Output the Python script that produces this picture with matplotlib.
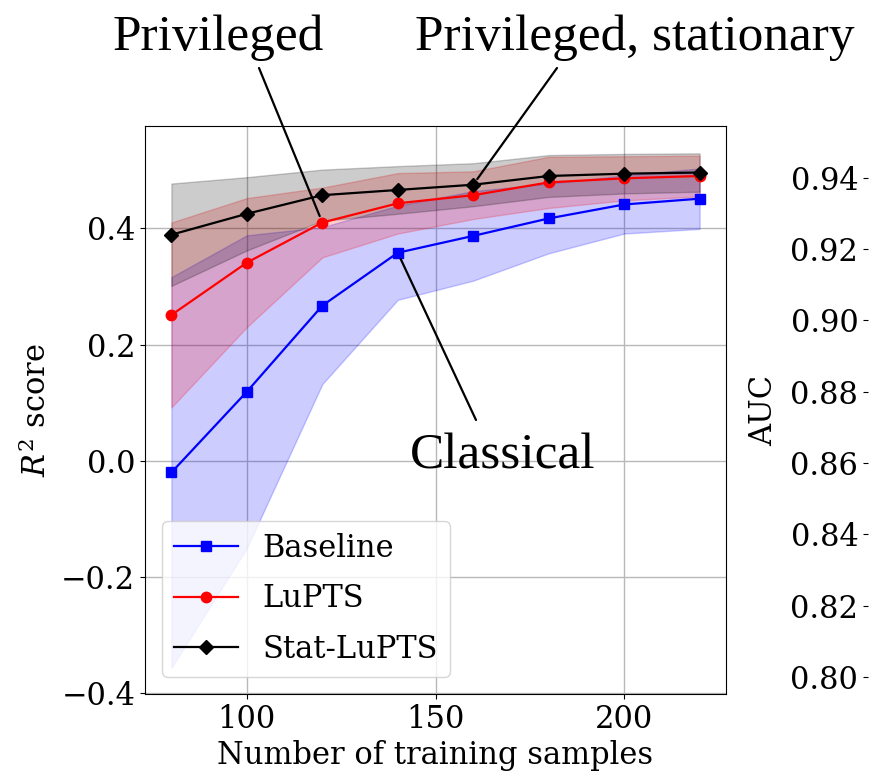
"""
Learning curves: R^2 score vs number of training samples for Baseline, LuPTS and Stat-LuPTS.
"""

### Importing libraries
import numpy as np
import matplotlib.pyplot as plt

### Data
n_samples       = [80, 100, 120, 140, 160, 180, 200, 220]

# mean R^2 score for each method
baseline_mean   = [-0.020, 0.119, 0.267, 0.358, 0.387, 0.417, 0.441, 0.451]
lupts_mean      = [0.251, 0.341, 0.410, 0.443, 0.457, 0.479, 0.486, 0.490]
stat_mean       = [0.389, 0.425, 0.457, 0.466, 0.475, 0.490, 0.494, 0.496]

# one standard deviation (shaded bands)
baseline_std    = [0.336, 0.269, 0.135, 0.081, 0.077, 0.060, 0.050, 0.052]
lupts_std       = [0.159, 0.111, 0.060, 0.052, 0.041, 0.044, 0.038, 0.035]
stat_std        = [0.088, 0.063, 0.044, 0.041, 0.037, 0.036, 0.034, 0.033]

labels          = ['Baseline', 'LuPTS', 'Stat-LuPTS']
auc_ticks       = [0.80, 0.82, 0.84, 0.86, 0.88, 0.90, 0.92, 0.94]

### Style
plt.rcParams['font.family'] = 'DejaVu Serif'
plt.rcParams['mathtext.fontset'] = 'dejavuserif'
plt.rcParams['font.size'] = 22

W, H = 869, 775
fig = plt.figure(figsize=(W / 100, H / 100), dpi=100)

# main axes, position in figure pixels
ax1 = fig.add_axes([145 / W, 1 - 694 / H, (726 - 145) / W, (694 - 126) / H])

series = [
    (baseline_mean, baseline_std, 'b', 's', 7),
    (lupts_mean, lupts_std, 'r', 'o', 7.5),
    (stat_mean, stat_std, 'k', 'D', 7),
]

for (mean, std, color, marker, ms), label in zip(series, labels):
    mean = np.array(mean)
    std = np.array(std)
    ax1.fill_between(n_samples, mean - std, mean + std, color=color, alpha=0.2)
    ax1.plot(n_samples, mean, '-', color=color, marker=marker, markersize=ms,
             linewidth=1.6, label=label)

ax1.set_ylim(-0.401, 0.576)
ax1.set_yticks([-0.4, -0.2, 0.0, 0.2, 0.4])
ax1.set_xticks([100, 150, 200])
ax1.grid(True, color='#b8b8b8', linewidth=1.0)
ax1.set_axisbelow(True)
ax1.set_xlabel('Number of training samples', labelpad=4)
ax1.set_ylabel('$R^2$ score', labelpad=6)

ax1.legend(loc='lower left', fontsize=22, handlelength=2.1, labelspacing=0.64,
           borderaxespad=0.55)

# AUC axis of the neighbouring panel (only its ticks are in view)
ax2 = fig.add_axes([868 / W, 1 - 694 / H, 0.5, (694 - 126) / H])
ax2.set_ylim(0.7952, 0.9545)
ax2.set_yticks(auc_ticks)
ax2.set_yticklabels([f'{t:.2f}' for t in auc_ticks])
ax2.set_xticks([])
ax2.set_ylabel('AUC', labelpad=8)
for sp in ['top', 'right', 'bottom', 'left']:
    ax2.spines[sp].set_visible(False)

### Annotations
ann_font = dict(family='Liberation Serif', fontsize=37, color='k')
fig.text(218 / W, 1 - 50 / H, 'Privileged', ha='center', va='baseline', **ann_font)
fig.text(635 / W, 1 - 50 / H, 'Privileged, stationary', ha='center', va='baseline', **ann_font)
fig.text(503 / W, 1 - 469 / H, 'Classical', ha='center', va='baseline', **ann_font)

line_props = dict(arrowstyle='-', color='k', lw=1.6, shrinkA=0, shrinkB=5)
ax1.annotate('', xy=(n_samples[2], lupts_mean[2]), xytext=(259, H - 68),
             textcoords='figure pixels', arrowprops=line_props, annotation_clip=False)
ax1.annotate('', xy=(n_samples[4], stat_mean[4]), xytext=(557, H - 68),
             textcoords='figure pixels', arrowprops=line_props, annotation_clip=False)
ax1.annotate('', xy=(n_samples[3], baseline_mean[3]), xytext=(476, H - 420),
             textcoords='figure pixels', arrowprops=line_props, annotation_clip=False)

plt.savefig('out.png', dpi=100)
